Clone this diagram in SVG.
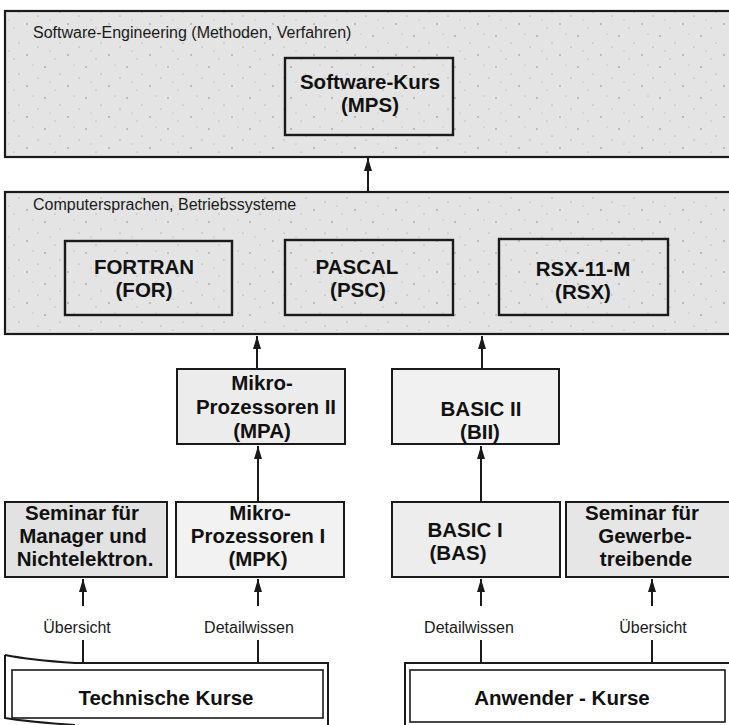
<svg xmlns="http://www.w3.org/2000/svg" width="729" height="725" viewBox="0 0 729 725">
<defs>
<pattern id="grain" x="0" y="0" width="41" height="31" patternUnits="userSpaceOnUse">
<rect width="41" height="31" fill="#e4e4e4"/>
<circle cx="4" cy="5" r="0.7" fill="#777"/>
<circle cx="19" cy="12" r="0.6" fill="#888"/>
<circle cx="33" cy="3" r="0.5" fill="#999"/>
<circle cx="27" cy="24" r="0.7" fill="#777"/>
<circle cx="9" cy="20" r="0.5" fill="#999"/>
<circle cx="38" cy="16" r="0.6" fill="#888"/>
<circle cx="14" cy="28" r="0.5" fill="#888"/>
</pattern>
<marker id="arr" viewBox="0 0 13 8" refX="13" refY="4" markerWidth="13" markerHeight="8" markerUnits="userSpaceOnUse" orient="auto">
<path d="M0,0 L13,4 L0,8 z" fill="#1a1a1a"/>
</marker>
</defs>
<style>
.panel{fill:url(#grain);stroke:#1a1a1a;stroke-width:2.2}
.pbox{fill:none;stroke:#1a1a1a;stroke-width:2.4}
.box{stroke:#1a1a1a;stroke-width:2}
.ttl{font-family:"Liberation Sans",Arial,sans-serif;font-size:16px;fill:#1a1a1a}
.b{font-family:"Liberation Sans",Arial,sans-serif;font-size:20.5px;font-weight:bold;fill:#111;text-anchor:middle}
.lbl{font-family:"Liberation Sans",Arial,sans-serif;font-size:16px;fill:#1a1a1a;text-anchor:middle}
.con{fill:none;stroke:#1a1a1a;stroke-width:2}
</style>
<rect width="729" height="725" fill="#fff"/>

<g id="panel-software-engineering">
<rect class="panel" x="5" y="11" width="740" height="146"/>
<text class="ttl" x="33" y="38">Software-Engineering (Methoden, Verfahren)</text>
</g>
<g id="node-mps">
<rect class="pbox" x="285" y="58" width="168" height="77"/>
<text class="b" x="370" y="89">Software-Kurs</text>
<text class="b" x="370" y="112">(MPS)</text>
</g>

<g id="panel-computersprachen">
<rect class="panel" x="5" y="192" width="740" height="142"/>
<text class="ttl" x="33" y="210">Computersprachen, Betriebssysteme</text>
</g>
<g id="node-for">
<rect class="pbox" x="65" y="241" width="167" height="74"/>
<text class="b" x="144" y="274">FORTRAN</text>
<text class="b" x="144" y="297">(FOR)</text>
</g>
<g id="node-psc">
<rect class="pbox" x="285" y="240" width="168" height="75"/>
<text class="b" x="357" y="274">PASCAL</text>
<text class="b" x="358" y="297">(PSC)</text>
</g>
<g id="node-rsx">
<rect class="pbox" x="499" y="239" width="169" height="76"/>
<text class="b" x="583" y="276">RSX-11-M</text>
<text class="b" x="583" y="299">(RSX)</text>
</g>

<g id="node-mpa">
<rect class="box" x="177" y="369" width="168" height="75" fill="#ececec"/>
<text class="b" x="262" y="390">Mikro-</text>
<text class="b" x="266" y="414">Prozessoren II</text>
<text class="b" x="262" y="438">(MPA)</text>
</g>
<g id="node-bii">
<rect class="box" x="392" y="369" width="167" height="75" fill="#f1f1f1"/>
<text class="b" x="481" y="416">BASIC II</text>
<text class="b" x="480" y="439">(BII)</text>
</g>

<g id="node-seminar-manager">
<rect class="box" x="5" y="502" width="162" height="75" fill="#e2e2e2"/>
<text class="b" x="82" y="520">Seminar für</text>
<text class="b" x="83" y="543">Manager und</text>
<text class="b" x="85" y="566">Nichtelektron.</text>
</g>
<g id="node-mpk">
<rect class="box" x="176" y="502" width="168" height="75" fill="#f2f2f2"/>
<text class="b" x="260" y="520">Mikro-</text>
<text class="b" x="258" y="543">Prozessoren I</text>
<text class="b" x="258" y="566">(MPK)</text>
</g>
<g id="node-bas">
<rect class="box" x="392" y="502" width="168" height="75" fill="#ededed"/>
<text class="b" x="465" y="537">BASIC I</text>
<text class="b" x="458" y="560">(BAS)</text>
</g>
<g id="node-seminar-gewerbe">
<rect class="box" x="566" y="502" width="170" height="75" fill="#e6e6e6"/>
<text class="b" x="642" y="520">Seminar für</text>
<text class="b" x="645" y="543">Gewerbe-</text>
<text class="b" x="646" y="566">treibende</text>
</g>

<g id="node-technische-kurse">
<path d="M5,655 Q30,660 75,663 H328 V725" fill="none" stroke="#1a1a1a" stroke-width="2"/>
<path d="M5,655 V718 Q30,722 75,725" fill="none" stroke="#1a1a1a" stroke-width="2"/>
<rect x="12" y="670" width="311" height="48" fill="#fff" stroke="#1a1a1a" stroke-width="1.6"/>
<text class="b" x="166" y="705">Technische Kurse</text>
</g>
<g id="node-anwender-kurse">
<rect x="405" y="663" width="330" height="70" fill="#fff" stroke="#1a1a1a" stroke-width="2"/>
<rect x="410" y="670" width="315" height="52" fill="#fff" stroke="#1a1a1a" stroke-width="1.6"/>
<text class="b" x="562" y="705">Anwender - Kurse</text>
</g>

<g id="connectors">
<path class="con" d="M368,192 V158" marker-end="url(#arr)"/>
<path class="con" d="M257,369 V336" marker-end="url(#arr)"/>
<path class="con" d="M482,369 V336" marker-end="url(#arr)"/>
<path class="con" d="M258,502 V446" marker-end="url(#arr)"/>
<path class="con" d="M481,502 V446" marker-end="url(#arr)"/>
<path class="con" d="M83,663 V640 M83,606 V579" marker-end="url(#arr)"/>
<path class="con" d="M258,663 V640 M258,606 V579" marker-end="url(#arr)"/>
<path class="con" d="M481,663 V640 M481,606 V579" marker-end="url(#arr)"/>
<path class="con" d="M652,663 V640 M652,606 V579" marker-end="url(#arr)"/>
<text class="lbl" x="77" y="633">Übersicht</text>
<text class="lbl" x="249" y="633">Detailwissen</text>
<text class="lbl" x="469" y="633">Detailwissen</text>
<text class="lbl" x="653" y="633">Übersicht</text>
</g>
</svg>
